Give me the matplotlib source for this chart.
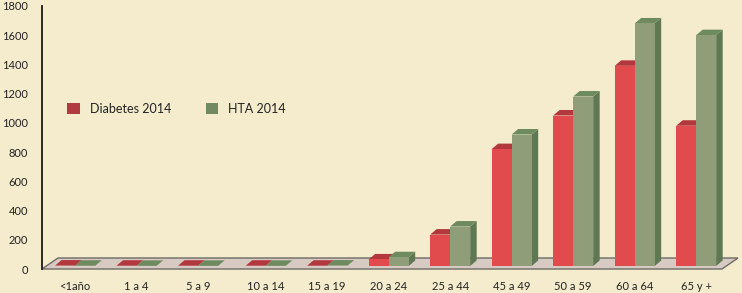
import numpy as np
import matplotlib
matplotlib.use("Agg")
import matplotlib.pyplot as plt
import matplotlib.transforms as mtransforms
from matplotlib.patches import Polygon, Patch

# ---- data ----
categories = ["<1año", "1 a 4", "5 a 9", "10 a 14", "15 a 19", "20 a 24",
              "25 a 44", "45 a 49", "50 a 59", "60 a 64", "65 y +"]
diabetes_2014 = [3, 2, 2, 2, 2, 45, 215, 800, 1030, 1370, 960]
hta_2014 = [2, 1, 1, 1, 3, 60, 270, 900, 1160, 1660, 1580]
series_names = ["Diabetes 2014", "HTA 2014"]
yticks = list(range(0, 1801, 200))

# ---- style ----
BG = "#F4ECCD"
RED_FRONT, RED_SIDE, RED_TOP = "#E24B4E", "#A8353A", "#B2383D"
GRN_FRONT, GRN_SIDE, GRN_TOP = "#8F9E79", "#5F7753", "#6E8A5F"
LEG_RED, LEG_GRN = "#B13A3E", "#728A62"
FLOOR = "#D6CAC3"
TXT = "#222222"

W, H, DPI = 742, 293, 100
fig = plt.figure(figsize=(W / DPI, H / DPI), dpi=DPI, facecolor=BG)
ax_left, ax_right, ax_top, ax_bot = 42, 738, 6, 269
ax = fig.add_axes([ax_left / W, (H - ax_bot) / H,
                   (ax_right - ax_left) / W, (ax_bot - ax_top) / H])
ax.set_facecolor(BG)
ax.patch.set_alpha(0)

# x positions (small gap after the third group, as in the reference)
idx = np.arange(len(categories))
pos = idx + 0.1 * (idx >= 3)
xlim = (-0.537, 10.78)
ylim = (0, 1800)
ax.set_xlim(*xlim)
ax.set_ylim(*ylim)

ppx = (ax_right - ax_left) / (xlim[1] - xlim[0])  # px per x unit
ppy = (ax_bot - ax_top) / (ylim[1] - ylim[0])     # px per y unit
dx = 6.5 / ppx
dy = 5.5 / ppy
bw = 20 / ppx

# floor parallelogram
fl = Polygon([(xlim[0], 0), (xlim[0] + (722 - 42) / ppx, 0),
              (xlim[1], 11 / ppy), (xlim[0] + 16 / ppx, 11 / ppy)],
             closed=True, facecolor=FLOOR, edgecolor="#6E6A66", lw=1.0,
             zorder=1, clip_on=False)
ax.add_patch(fl)

shift = mtransforms.offset_copy(ax.transData, fig=fig, x=0, y=3, units="dots")


def draw_series(xl, vals, front, side, top, z):
    for x, v in zip(xl, vals):
        side_poly = Polygon([(x + bw, 0), (x + bw + dx, dy), (x + bw + dx, v + dy), (x + bw, v)],
                            closed=True, facecolor=side, edgecolor="none", transform=shift, zorder=z)
        top_poly = Polygon([(x, v), (x + dx, v + dy), (x + bw + dx, v + dy), (x + bw, v)],
                           closed=True, facecolor=top, edgecolor="none", transform=shift, zorder=z)
        ax.add_patch(side_poly)
        ax.add_patch(top_poly)
    ax.bar(xl, vals, width=bw, align="edge", color=front, edgecolor="none",
           transform=shift, zorder=z + 0.5)


for i in range(len(categories)):
    draw_series([pos[i] - bw], [diabetes_2014[i]], RED_FRONT, RED_SIDE, RED_TOP, 2 + i * 0.01)
    draw_series([pos[i]], [hta_2014[i]], GRN_FRONT, GRN_SIDE, GRN_TOP, 3 + i * 0.01)

ax.set_xlim(*xlim)
ax.set_ylim(*ylim)

# axes styling
for s in ["top", "right", "bottom"]:
    ax.spines[s].set_visible(False)
ax.spines["left"].set_color("#1a1a1a")
ax.spines["left"].set_linewidth(1.3)
ax.spines["left"].set_zorder(6)

font = "Lato"
ax.set_yticks(yticks)
ax.set_yticklabels([str(t) for t in yticks], fontsize=8, color=TXT, fontfamily=font)
ax.tick_params(axis="y", length=0, pad=10)
ax.set_xticks(pos)
ax.set_xticklabels(categories, fontsize=8, color=TXT, fontfamily=font)
ax.tick_params(axis="x", length=0, pad=8.5)

handles = [Patch(facecolor=LEG_RED, edgecolor="none"),
           Patch(facecolor=LEG_GRN, edgecolor="none")]
fig.legend(handles, series_names, loc="center left",
           bbox_to_anchor=(67 / W, 1 - 109 / H), ncol=2, frameon=False,
           handlelength=1.0, handleheight=1.0, handletextpad=0.8,
           columnspacing=2.8, borderpad=0, borderaxespad=0,
           prop={"family": font, "size": 9})
for t in fig.legends[0].get_texts():
    t.set_color(TXT)

fig.savefig("out.png", dpi=DPI, facecolor=BG)
